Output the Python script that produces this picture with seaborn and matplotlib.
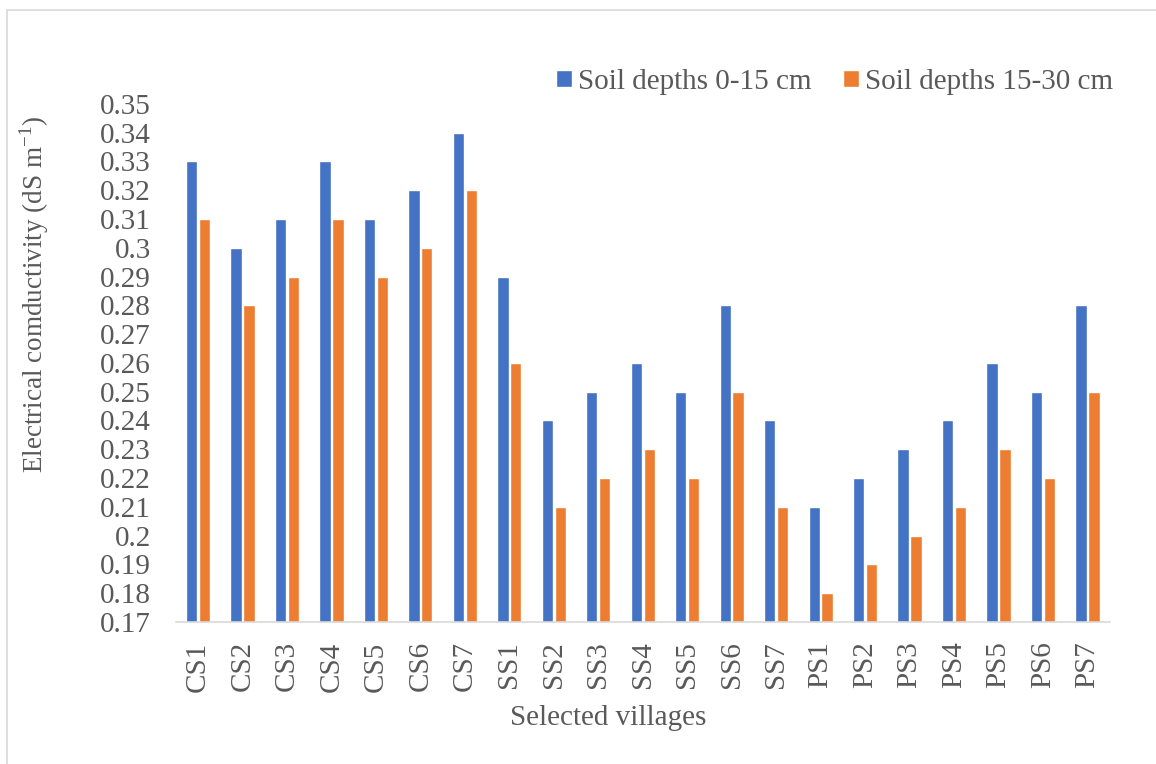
import seaborn as sns
import matplotlib.pyplot as plt
import matplotlib.patches as mpatches
import pandas as pd

villages = ["CS1", "CS2", "CS3", "CS4", "CS5", "CS6", "CS7",
            "SS1", "SS2", "SS3", "SS4", "SS5", "SS6", "SS7",
            "PS1", "PS2", "PS3", "PS4", "PS5", "PS6", "PS7"]
depth_0_15 = [0.33, 0.30, 0.31, 0.33, 0.31, 0.32, 0.34,
              0.29, 0.24, 0.25, 0.26, 0.25, 0.28, 0.24,
              0.21, 0.22, 0.23, 0.24, 0.26, 0.25, 0.28]
depth_15_30 = [0.31, 0.28, 0.29, 0.31, 0.29, 0.30, 0.32,
               0.26, 0.21, 0.22, 0.23, 0.22, 0.25, 0.21,
               0.18, 0.19, 0.20, 0.21, 0.23, 0.22, 0.25]
series_names = ["Soil depths 0-15 cm", "Soil depths 15-30 cm"]
y_ticks = [round(0.17 + 0.01 * i, 2) for i in range(19)]

df = pd.DataFrame({
    "village": villages * 2,
    "ec": depth_0_15 + depth_15_30,
    "depth": [series_names[0]] * len(villages) + [series_names[1]] * len(villages),
})

sns.set_style("white")
plt.rcParams["font.family"] = ["Liberation Serif", "DejaVu Serif"]
plt.rcParams["mathtext.fontset"] = "custom"
plt.rcParams["mathtext.rm"] = "Liberation Serif"
txt = "#595959"
fs = 21

fig = plt.figure(figsize=(11.56, 7.64), dpi=100)
ax = fig.add_axes([0.152, 0.186, 0.808, 0.678])

sns.barplot(data=df, x="village", y="ec", hue="depth",
            palette=["#4472C4", "#ED7D31"], width=0.58, gap=0.12,
            ax=ax, saturation=1)

ax.set_ylim(0.17, 0.35)
ax.set_yticks(y_ticks)
ax.set_yticklabels([f"{v:g}" for v in y_ticks])
ax.set_xlim(-0.5, len(villages) - 0.5)
ax.tick_params(axis="y", labelsize=fs, colors=txt, length=0, pad=18)
ax.tick_params(axis="x", labelsize=fs, colors=txt, length=0, rotation=90, pad=14)
for s in ["top", "right", "left"]:
    ax.spines[s].set_visible(False)
ax.spines["bottom"].set_color("#d9d9d9")
ax.spines["bottom"].set_linewidth(1.2)

ax.set_xlabel("Selected villages", fontsize=fs, color=txt)
ax.xaxis.set_label_coords(0.4625, -0.161)
ax.set_ylabel(r"Electrical comductivity (dS m$^{\mathregular{-1}}$)",
              fontsize=19.5, color=txt)
ax.yaxis.set_label_coords(-0.133, 0.633)

ax.legend(loc="upper right", bbox_to_anchor=(1.016, 1.09), ncol=2, frameon=False,
          fontsize=fs, labelcolor=txt, handlelength=0.55, handleheight=0.55,
          handletextpad=0.2, columnspacing=1.1, borderaxespad=0)

# outer chart border
fig.patches.append(mpatches.Rectangle((0.006, -0.1), 1.2, 1.087, transform=fig.transFigure,
                                      fill=False, edgecolor="#d9d9d9", linewidth=1.2))

plt.savefig("out.png", dpi=100)
